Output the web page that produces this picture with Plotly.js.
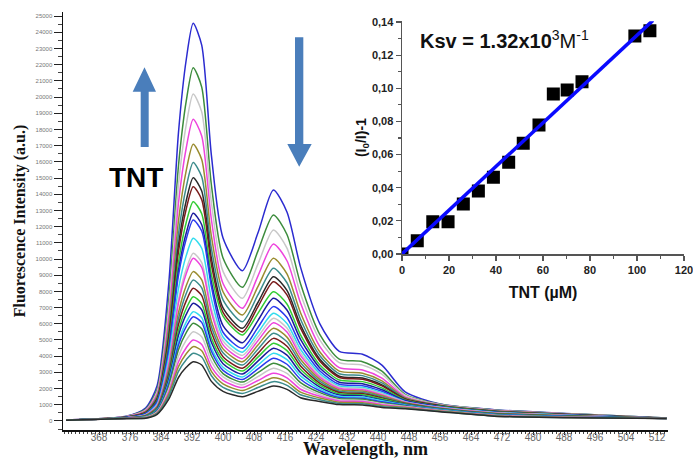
<!DOCTYPE html>
<html>
<head>
<meta charset="utf-8">
<script src="https://cdn.plot.ly/plotly-3.0.1.min.js"></script>
<style>html,body{margin:0;padding:0;background:#fff;}#chart{width:693px;height:459px;}</style>
</head>
<body>
<div id="chart"></div>
<script>
// Wavelength grid (nm)
const wavelength = [359.5, 375, 380, 383, 386, 388.5, 390.5, 392.3, 394.5, 397, 400, 405, 409, 413, 416.5, 420, 425, 430, 436, 441, 447, 456, 470, 490, 514.5];
// Labelled wavelength ticks (nm)
const wavelengthTicks = [368, 376, 384, 392, 400, 408, 416, 424, 432, 440, 448, 456, 464, 472, 480, 488, 496, 504, 512];

// Fluorescence spectra (a.u.), top curve first
const I01 = [60, 300, 800, 2200, 8500, 17800, 22300, 24550, 23200, 16400, 11300, 9280, 11600, 14260, 12900, 9500, 6000, 4300, 4120, 3450, 1800, 1050, 700, 450, 180];
const I02 = [60, 284, 714, 1954, 7515, 15753, 19738, 21810, 20610, 14569, 10065, 8250, 10485, 12720, 11512, 8472, 5336, 3823, 3660, 3074, 1645, 1032, 685, 440, 179];
const I03 = [60, 271, 666, 1816, 6965, 14587, 18272, 20190, 19080, 13487, 9235, 7570, 9680, 11790, 10670, 7852, 4993, 3600, 3450, 2898, 1594, 1013, 669, 431, 178];
const I04 = [60, 260, 619, 1683, 6431, 13456, 16851, 18620, 17596, 12438, 8491, 6960, 8945, 10930, 9892, 7279, 4589, 3290, 3150, 2646, 1493, 995, 654, 421, 177];
const I05 = [55, 248, 572, 1552, 5907, 12348, 15457, 17080, 16141, 11409, 7979, 6540, 8290, 10040, 9086, 6687, 4262, 3078, 2950, 2478, 1434, 977, 638, 412, 175];
const I06 = [55, 240, 539, 1456, 5523, 11534, 14435, 15950, 15073, 10655, 7479, 6130, 7780, 9430, 8534, 6280, 4027, 2919, 2800, 2352, 1397, 958, 623, 402, 174];
const I07 = [55, 233, 511, 1377, 5207, 10864, 13593, 15020, 14194, 10033, 6978, 5720, 7315, 8910, 8064, 5934, 3808, 2763, 2650, 2226, 1354, 940, 608, 392, 173];
const I08 = [55, 228, 494, 1329, 5016, 10461, 13086, 14460, 13665, 9659, 6710, 5500, 7050, 8600, 7783, 5728, 3694, 2688, 2580, 2167, 1349, 922, 592, 383, 172];
const I09 = [55, 222, 466, 1251, 4704, 9799, 12254, 13540, 12795, 9045, 6478, 5310, 6645, 7980, 7222, 5315, 3457, 2530, 2430, 2041, 1300, 904, 577, 373, 171];
const I10 = [55, 216, 445, 1190, 4459, 9280, 11602, 12820, 12115, 8564, 5893, 4830, 6200, 7570, 6851, 5042, 3275, 2395, 2300, 1932, 1260, 885, 561, 364, 170];
const I11 = [50, 213, 432, 1155, 4319, 8985, 11231, 12410, 11727, 8290, 5478, 4490, 5775, 7060, 6389, 4702, 3083, 2268, 2180, 1831, 1221, 867, 546, 354, 168];
const I12 = [50, 205, 398, 1059, 3935, 8172, 10208, 11280, 10660, 7535, 5185, 4250, 5450, 6650, 6018, 4429, 2925, 2162, 2080, 1747, 1190, 849, 531, 344, 167];
const I13 = [50, 198, 371, 980, 3619, 7502, 9367, 10350, 9781, 6914, 4941, 4050, 5195, 6340, 5738, 4222, 2803, 2078, 2000, 1680, 1170, 830, 515, 335, 166];
const I14 = [50, 195, 361, 953, 3514, 7279, 9086, 10040, 9488, 6707, 4697, 3850, 4960, 6070, 5493, 4043, 2696, 2005, 1930, 1621, 1152, 812, 500, 325, 165];
const I15 = [50, 189, 337, 884, 3235, 6688, 8344, 9220, 8713, 6159, 4453, 3650, 4685, 5720, 5177, 3810, 2566, 1920, 1850, 1554, 1127, 794, 484, 315, 164];
const I16 = [50, 185, 321, 840, 3058, 6314, 7874, 8700, 8222, 5812, 4209, 3450, 4430, 5410, 4896, 3603, 2443, 1836, 1770, 1487, 1099, 775, 469, 306, 163];
const I17 = [50, 181, 306, 796, 2885, 5947, 7412, 8190, 7740, 5471, 3965, 3250, 4175, 5100, 4616, 3397, 2329, 1761, 1700, 1428, 1078, 757, 454, 296, 162];
const I18 = [50, 178, 290, 752, 2708, 5572, 6941, 7670, 7248, 5124, 3758, 3080, 3940, 4800, 4344, 3197, 2208, 1677, 1620, 1361, 1047, 739, 438, 287, 160];
const I19 = [50, 175, 278, 718, 2572, 5284, 6579, 7270, 6870, 4856, 3538, 2900, 3695, 4490, 4063, 2990, 2094, 1603, 1550, 1302, 1020, 720, 423, 277, 159];
const I20 = [50, 171, 263, 674, 2395, 4910, 6109, 6750, 6379, 4509, 3318, 2720, 3450, 4180, 3783, 2784, 1980, 1529, 1480, 1243, 992, 702, 407, 267, 158];
const I21 = [50, 168, 253, 647, 2290, 4687, 5828, 6440, 6086, 4302, 3123, 2560, 3215, 3870, 3502, 2577, 1865, 1454, 1410, 1184, 963, 684, 392, 258, 157];
const I22 = [50, 165, 241, 613, 2150, 4392, 5457, 6030, 5698, 4028, 2928, 2400, 2980, 3560, 3222, 2371, 1751, 1380, 1340, 1126, 931, 665, 377, 248, 156];
const I23 = [50, 161, 225, 568, 1973, 4017, 4987, 5510, 5207, 3681, 2721, 2230, 2740, 3250, 2941, 2165, 1636, 1306, 1270, 1067, 898, 647, 361, 238, 155];
const I24 = [50, 158, 210, 525, 1800, 3650, 4525, 5000, 4725, 3340, 2513, 2060, 2500, 2940, 2661, 1958, 1522, 1231, 1200, 1008, 864, 629, 346, 229, 153];
const I25 = [50, 154, 198, 490, 1661, 3355, 4154, 4590, 4338, 3066, 2294, 1880, 2275, 2670, 2416, 1778, 1415, 1158, 1130, 949, 827, 610, 331, 219, 152];
const I26 = [50, 151, 185, 455, 1521, 3060, 3783, 4180, 3950, 2792, 2074, 1700, 2065, 2430, 2199, 1618, 1313, 1085, 1060, 890, 790, 592, 315, 210, 151];
const I27 = [50, 147, 170, 411, 1344, 2685, 3312, 3660, 3459, 2445, 1830, 1500, 1830, 2160, 1955, 1439, 1206, 1011, 990, 832, 749, 574, 300, 200, 150];

const spectra = [I01, I02, I03, I04, I05, I06, I07, I08, I09, I10, I11, I12, I13, I14, I15, I16, I17, I18, I19, I20, I21, I22, I23, I24, I25, I26, I27];
const spectraColors = ['#2b2bd0', '#3c8c3c', '#c8c8c8', '#ee44dd', '#9a8c30', '#3c8c8c', '#2a2a2a', '#7a1c1c', '#33cc33', '#1c1c9c',
  '#2a3aee', '#33dcee', '#c8c8c8', '#ee44dd', '#9a8c30', '#3c8c8c', '#7a1c1c', '#33cc33', '#1c1c9c', '#33dcee',
  '#2a3aee', '#3c8c3c', '#c8c8c8', '#ee44dd', '#9a8c30', '#3c8c8c', '#2a2a2a'];

// Inset: Stern-Volmer plot
const tnt = [0, 6.5, 13.1, 19.6, 26.1, 32.5, 38.9, 45.4, 51.6, 58.3, 64.4, 70.3, 76.6, 99.1, 105.5];
const ratio = [0, 0.0080, 0.0195, 0.0195, 0.0302, 0.0380, 0.0463, 0.0553, 0.0668, 0.0778, 0.0966, 0.0990, 0.1040, 0.1316, 0.1348];
const fitX = [0, 106.8];
const fitY = [0, 0.1410];
const tntTicks = [0, 20, 40, 60, 80, 100, 120];

const traces = [];
spectra.forEach((s, i) => {
  traces.push({
    x: wavelength, y: s, type: 'scatter', mode: 'lines',
    line: {color: spectraColors[i], width: 1.5, shape: 'spline', smoothing: 0.7},
    xaxis: 'x', yaxis: 'y', hoverinfo: 'skip'
  });
});
traces.push({
  x: tnt, y: ratio, type: 'scatter', mode: 'markers',
  marker: {symbol: 'square', size: 13, color: '#000'},
  xaxis: 'x2', yaxis: 'y2', cliponaxis: true
});
traces.push({
  x: fitX, y: fitY, type: 'scatter', mode: 'lines',
  line: {color: '#0a0aff', width: 3.5},
  xaxis: 'x2', yaxis: 'y2'
});

// pixel -> paper helpers for decorations
const L = 63, R = 5, T = 10, B = 29, W = 693, H = 459;
const pw = W - L - R, ph = H - T - B;
const px = v => (v - L) / pw;
const py = v => (H - B - v) / ph;

function poly(pts) {
  return pts.map((p, k) => (k ? 'L' : 'M') + px(p[0]).toFixed(4) + ',' + py(p[1]).toFixed(4)).join(' ') + ' Z';
}
const upArrow = poly([[140.7,147],[148.7,147],[148.7,91.7],[156,91.7],[144.5,67.3],[132.7,91.7],[140.7,91.7]]);
const downArrow = poly([[295,37.3],[303.3,37.3],[303.3,144],[311.7,144],[299.2,166.7],[287.3,144],[295,144]]);

const serif = 'Liberation Serif, Times New Roman, serif';
const sans = 'Liberation Sans, Arial, sans-serif';

const layout = {
  width: W, height: H,
  margin: {l: L, r: R, t: T, b: B},
  paper_bgcolor: '#fff', plot_bgcolor: 'rgba(0,0,0,0)',
  showlegend: false,
  separators: ', ',
  xaxis: {
    domain: [0, px(668)], anchor: 'y',
    range: [358.7, 514.84],
    tickmode: 'array', tickvals: wavelengthTicks,
    ticks: 'outside', ticklen: 3, tickwidth: 1, tickcolor: '#222', ticklabelstandoff: -6,
    minor: {tickmode: 'linear', tick0: 360, dtick: 1, ticks: 'outside', ticklen: 2, tickcolor: '#444', showgrid: false},
    showgrid: false, zeroline: false, showline: true, linecolor: '#111', linewidth: 1.5,
    tickfont: {family: sans, size: 10, color: '#666'},
    title: {text: '<b>Wavelength, nm</b>', font: {family: serif, size: 18, color: '#111'}, standoff: 6}
  },
  yaxis: {
    domain: [0, py(12)], anchor: 'x',
    range: [-556, 25247],
    tick0: 0, dtick: 1000, tickformat: 'd', ticks: 'outside', ticklen: 8, tickwidth: 1, tickcolor: '#222',
    minor: {dtick: 500, ticks: 'outside', ticklen: 4, tickcolor: '#444', showgrid: false},
    showgrid: false, zeroline: false, showline: true, linecolor: '#111', linewidth: 1.5,
    tickfont: {family: sans, size: 6, color: '#777'},
    title: {text: '<b>Fluorescence Intensity (a.u.)</b>', font: {family: serif, size: 16, color: '#111'}, standoff: 6}
  },
  xaxis2: {
    domain: [px(402), px(684)], anchor: 'y2',
    range: [0, 120.01], tickmode: 'array', tickvals: tntTicks, ticklabeloverflow: 'allow',
    ticks: 'outside', ticklen: 5, tickwidth: 1.2, tickcolor: '#555',
    minor: {tickmode: 'linear', tick0: 0, dtick: 10, ticks: 'outside', ticklen: 3, tickcolor: '#555', showgrid: false},
    showgrid: false, zeroline: false, showline: true, linecolor: '#555', linewidth: 1.5,
    tickfont: {family: sans, size: 11, color: '#222', weight: 'bold'},
    title: {text: '<b>TNT (µM)</b>', font: {family: sans, size: 16, color: '#111'}, standoff: 12}
  },
  yaxis2: {
    domain: [py(254), py(21.2)], anchor: 'x2',
    range: [0, 0.1405], dtick: 0.02, tickformat: '.2f', ticks: 'outside', ticklen: 5, tickwidth: 1.2, tickcolor: '#555',
    minor: {dtick: 0.01, ticks: 'outside', ticklen: 3, tickcolor: '#555', showgrid: false},
    showgrid: false, zeroline: false, showline: true, linecolor: '#555', linewidth: 1.5,
    tickfont: {family: sans, size: 11, color: '#222', weight: 'bold'},
    title: {text: '<b>(I<sub>0</sub>/I)-1</b>', font: {family: sans, size: 14, color: '#111'}, standoff: 2}
  },
  shapes: [
    {type: 'path', xref: 'paper', yref: 'paper', path: upArrow, fillcolor: '#4a7ebb', line: {width: 0}},
    {type: 'path', xref: 'paper', yref: 'paper', path: downArrow, fillcolor: '#4a7ebb', line: {width: 0}}
  ],
  annotations: [
    {xref: 'paper', yref: 'paper', x: px(136), y: py(177), xanchor: 'center', yanchor: 'middle',
     text: '<b>TNT</b>', showarrow: false, font: {family: sans, size: 28, color: '#000'}},
    {xref: 'paper', yref: 'paper', x: px(418), y: py(40), xanchor: 'left', yanchor: 'middle',
     text: '<b>Ksv = 1.32x10</b><sup>3</sup>M<sup>-1</sup>', showarrow: false, font: {family: sans, size: 20, color: '#111'}}
  ]
};

Plotly.newPlot('chart', traces, layout, {displayModeBar: false, staticPlot: true});
</script>
</body>
</html>
